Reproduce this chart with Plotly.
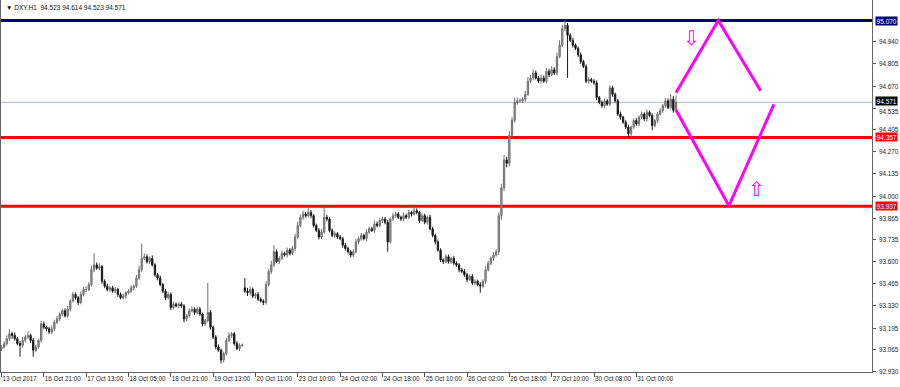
import plotly.graph_objects as go

# ---------------- data ----------------
close_ = [
    93.08, 93.10, 93.13, 93.16, 93.15, 93.13, 93.10, 93.09, 93.12, 93.14, 93.15, 93.12, 93.06, 93.08, 93.12, 93.22,
    93.20, 93.19, 93.17, 93.19, 93.23, 93.25, 93.28, 93.30, 93.27, 93.31, 93.36, 93.40, 93.38, 93.35, 93.40, 93.43,
    93.43, 93.46, 93.55, 93.58, 93.56, 93.57, 93.48, 93.45, 93.43, 93.44, 93.42, 93.43, 93.40, 93.38, 93.39, 93.41,
    93.42, 93.44, 93.45, 93.50, 93.55, 93.62, 93.63, 93.60, 93.62, 93.58, 93.52, 93.50, 93.46, 93.42, 93.38, 93.40,
    93.32, 93.34, 93.33, 93.34, 93.33, 93.25, 93.27, 93.30, 93.31, 93.29, 93.31, 93.28, 93.22, 93.24, 93.29, 93.20,
    93.14, 93.08, 93.06, 93.00, 93.04, 93.12, 93.15, 93.16, 93.10, 93.07, 93.09, 93.09, 93.42, 93.41, 93.43, 93.39,
    93.40, 93.37, 93.36, 93.35, 93.46, 93.54, 93.58, 93.66, 93.60, 93.62, 93.65, 93.64, 93.67, 93.65, 93.68, 93.75,
    93.82, 93.87, 93.89, 93.88, 93.90, 93.88, 93.82, 93.79, 93.75, 93.78, 93.87, 93.86, 93.79, 93.76, 93.77, 93.75,
    93.74, 93.70, 93.68, 93.66, 93.64, 93.66, 93.72, 93.74, 93.76, 93.74, 93.78, 93.80, 93.79, 93.83, 93.82, 93.85,
    93.86, 93.84, 93.72, 93.86, 93.88, 93.89, 93.87, 93.86, 93.88, 93.87, 93.90, 93.89, 93.91, 93.90, 93.85, 93.88,
    93.84, 93.87, 93.80, 93.76, 93.72, 93.67, 93.61, 93.60, 93.63, 93.60, 93.62, 93.59, 93.58, 93.55, 93.54, 93.52,
    93.49, 93.51, 93.47, 93.48, 93.46, 93.45, 93.48, 93.55, 93.59, 93.62, 93.64, 93.66, 93.88, 94.05, 94.22, 94.20,
    94.37, 94.46, 94.57, 94.58, 94.58, 94.59, 94.62, 94.70, 94.72, 94.75, 94.72, 94.70, 94.72, 94.70, 94.76, 94.74,
    94.77, 94.75, 94.85, 94.92, 95.02, 95.04, 94.98, 94.95, 94.92, 94.90, 94.86, 94.82, 94.79, 94.70, 94.71, 94.70,
    94.69, 94.60, 94.57, 94.55, 94.58, 94.56, 94.66, 94.62, 94.58, 94.50, 94.48, 94.45, 94.42, 94.38, 94.42, 94.46,
    94.44, 94.48, 94.50, 94.47, 94.51, 94.49, 94.43, 94.46, 94.50, 94.52, 94.55, 94.58, 94.54, 94.59, 94.523, 94.571,
]
# wick lengths in points (0.001)
upper_wick_pts = [
    10, 15, 20, 25, 12, 18, 10, 15, 20, 12, 25, 10, 15, 12, 10, 20,
    15, 10, 12, 20, 15, 18, 10, 12, 15, 20, 10, 15, 12, 10, 18, 15,
    20, 15, 25, 70, 15, 20, 10, 12, 15, 10, 12, 15, 10, 12, 15, 10,
    12, 15, 10, 20, 25, 90, 20, 15, 12, 18, 10, 12, 15, 10, 12, 15,
    12, 15, 10, 12, 15, 10, 12, 15, 18, 10, 12, 15, 10, 12, 180, 15,
    10, 12, 15, 10, 12, 15, 20, 12, 10, 15, 12, 10, 60, 20, 15, 12,
    10, 15, 12, 10, 20, 15, 25, 40, 15, 12, 18, 10, 15, 12, 15, 20,
    25, 15, 20, 12, 25, 15, 10, 12, 15, 20, 60, 15, 10, 12, 15, 10,
    12, 10, 15, 12, 10, 15, 20, 12, 15, 10, 18, 15, 12, 20, 15, 18,
    15, 12, 15, 10, 18, 15, 12, 10, 20, 12, 15, 10, 25, 15, 10, 15,
    12, 10, 15, 12, 10, 15, 12, 10, 15, 12, 10, 15, 12, 10, 12, 15,
    12, 10, 15, 12, 10, 15, 12, 20, 15, 12, 18, 15, 20, 25, 30, 20,
    25, 20, 30, 20, 15, 12, 20, 25, 18, 20, 15, 12, 18, 15, 20, 15,
    20, 15, 25, 30, 25, 30, 15, 12, 15, 10, 12, 15, 10, 12, 15, 10,
    12, 15, 10, 12, 15, 10, 15, 12, 10, 12, 15, 10, 12, 15, 10, 12,
    15, 12, 15, 10, 18, 12, 15, 10, 12, 15, 12, 18, 15, 30, 20, 43,
]
lower_wick_pts = [
    15, 10, 12, 15, 20, 12, 10, 70, 15, 12, 10, 15, 40, 12, 10, 15,
    12, 15, 10, 12, 15, 10, 12, 15, 10, 12, 15, 10, 12, 15, 10, 12,
    15, 10, 12, 15, 10, 12, 15, 10, 12, 15, 10, 12, 15, 10, 12, 15,
    10, 12, 15, 10, 12, 15, 10, 12, 15, 10, 12, 15, 10, 12, 15, 10,
    15, 12, 10, 15, 12, 20, 15, 12, 10, 15, 12, 10, 15, 12, 10, 15,
    12, 15, 10, 20, 15, 12, 10, 15, 12, 10, 15, 12, 10, 20, 15, 12,
    15, 12, 10, 15, 12, 10, 15, 12, 10, 15, 12, 10, 15, 12, 10, 15,
    12, 10, 15, 12, 10, 15, 12, 10, 15, 12, 10, 15, 12, 10, 15, 12,
    10, 15, 12, 10, 15, 12, 10, 15, 12, 10, 15, 12, 10, 15, 12, 10,
    15, 12, 60, 10, 12, 15, 10, 12, 15, 10, 12, 15, 10, 12, 15, 10,
    12, 15, 10, 12, 15, 10, 12, 15, 10, 12, 15, 10, 12, 15, 10, 12,
    15, 10, 12, 15, 10, 40, 12, 15, 10, 12, 15, 10, 20, 25, 20, 25,
    20, 15, 12, 15, 10, 12, 15, 10, 12, 15, 10, 12, 15, 10, 12, 15,
    10, 12, 15, 10, 12, 15, 260, 12, 15, 10, 12, 15, 10, 12, 15, 10,
    12, 15, 10, 12, 15, 10, 12, 15, 10, 12, 15, 10, 12, 20, 15, 10,
    12, 15, 10, 12, 15, 10, 30, 12, 15, 10, 12, 15, 10, 12, 15, 0,
]
first_open = 93.07
gap_opens = {92: 93.44}

x_tick_idx = [0, 16, 32, 48, 64, 80, 96, 112, 128, 144, 160, 176, 192, 208, 224, 240]
x_tick_text = ["13 Oct 2017", "16 Oct 21:00", "17 Oct 13:00", "18 Oct 05:00", "18 Oct 21:00",
               "19 Oct 13:00", "20 Oct 11:00", "23 Oct 10:00", "24 Oct 02:00", "24 Oct 18:00",
               "25 Oct 10:00", "26 Oct 02:00", "26 Oct 18:00", "27 Oct 10:00", "30 Oct 08:00",
               "31 Oct 00:00"]
y_tick_vals = [94.940, 94.805, 94.670, 94.535, 94.405, 94.270, 94.135, 94.000,
               93.865, 93.735, 93.600, 93.465, 93.330, 93.195, 93.065, 92.930]

level_prices = [95.070, 94.357, 93.937]
level_colors = ["#000080", "#ff0000", "#ff0000"]
bid_price = 94.571

zig_upper_x = [255, 271, 287]
zig_upper_y = [94.630, 95.070, 94.642]
zig_lower_x = [255, 275, 292]
zig_lower_y = [94.524, 93.940, 94.559]

arrow_down_pos = (261, 94.965)
arrow_up_pos = (285.6, 94.045)

title_text = "DXY.H1  94.523 94.614 94.523 94.571"

# ---------------- build OHLC ----------------
x_idx = list(range(len(close_)))
opens = []
for i, c in enumerate(close_):
    if i == 0:
        opens.append(first_open)
    elif i in gap_opens:
        opens.append(gap_opens[i])
    else:
        opens.append(close_[i - 1])
highs = [max(o, c) + u / 1000 for o, c, u in zip(opens, close_, upper_wick_pts)]
lows = [min(o, c) - l / 1000 for o, c, l in zip(opens, close_, lower_wick_pts)]

FONT = "Liberation Sans, Arial, sans-serif"
font_small = dict(family=FONT, size=6.3, color="#222222")

fig = go.Figure()

# horizontal levels (drawn under candles)
for p, col in zip(level_prices, level_colors):
    fig.add_shape(type="line", xref="paper", x0=0, x1=1, yref="y", y0=p, y1=p,
                  line=dict(color=col, width=3), layer="below")
fig.add_shape(type="line", xref="paper", x0=0, x1=1, yref="y", y0=bid_price, y1=bid_price,
              line=dict(color="#a9b9c9", width=1), layer="below")

fig.add_trace(go.Candlestick(
    x=x_idx, open=opens, high=highs, low=lows, close=close_,
    increasing=dict(line=dict(color="#6e6e6e", width=1), fillcolor="#a9a9a9"),
    decreasing=dict(line=dict(color="#1a1a1a", width=1), fillcolor="#1a1a1a"),
    whiskerwidth=0, showlegend=False, hoverinfo="skip",
))

fig.add_trace(go.Scatter(x=zig_upper_x, y=zig_upper_y, mode="lines",
                         line=dict(color="#ff00ff", width=3), showlegend=False, hoverinfo="skip"))
fig.add_trace(go.Scatter(x=zig_lower_x, y=zig_lower_y, mode="lines",
                         line=dict(color="#ff00ff", width=3), showlegend=False, hoverinfo="skip"))

# arrows
fig.add_annotation(x=arrow_down_pos[0], y=arrow_down_pos[1], text="\u21e9", showarrow=False,
                   font=dict(family="DejaVu Sans", size=20, color="#ff00ff"))
fig.add_annotation(x=arrow_up_pos[0], y=arrow_up_pos[1], text="\u21e7", showarrow=False,
                   font=dict(family="DejaVu Sans", size=20, color="#ff00ff"))

# y tick labels as annotations so the one next to the bid box can be nudged
for v in y_tick_vals:
    shift = -3 if abs(v - bid_price) < 0.06 else 0
    fig.add_annotation(xref="paper", x=1, xanchor="left", xshift=5, y=v, yanchor="middle",
                       yshift=shift, text=f"{v:.3f}", showarrow=False, font=font_small)

# price boxes on the right axis
for p, col in list(zip(level_prices, level_colors)) + [(bid_price, "#000000")]:
    fig.add_annotation(xref="paper", x=1, xanchor="left", xshift=3, y=p, yanchor="middle",
                       yshift=1 if p == bid_price else 0,
                       text=f"{p:.3f}", showarrow=False, bgcolor=col, borderpad=0.6,
                       font=dict(family=FONT, size=6.5, color="white"))

# title
fig.add_annotation(xref="paper", yref="paper", x=0, y=1, xanchor="left", yanchor="top",
                   xshift=3, yshift=-2, text="\u25bc " + title_text, showarrow=False,
                   font=dict(family=FONT, size=6.5, color="#111111"))

fig.update_layout(
    width=900, height=387,
    margin=dict(l=1, r=28, t=0, b=15, autoexpand=False),
    paper_bgcolor="white", plot_bgcolor="white",
    showlegend=False,
    xaxis=dict(
        range=[-0.19, 329.1], rangeslider=dict(visible=False),
        tickmode="array", tickvals=x_tick_idx, ticktext=x_tick_text,
        tickangle=0, automargin=False,
        ticks="outside", ticklen=4, tickcolor="#555555",
        ticklabelposition="outside right",
        showgrid=False, zeroline=False,
        showline=True, linecolor="#666666", linewidth=1, mirror=True,
        tickfont=font_small,
    ),
    yaxis=dict(
        range=[92.927, 95.195], side="right", automargin=False,
        tickmode="array", tickvals=y_tick_vals, showticklabels=False,
        ticks="outside", ticklen=3, tickcolor="#555555",
        showgrid=False, zeroline=False,
        showline=True, linecolor="#666666", linewidth=1, mirror=True,
    ),
)

fig.write_html("out.html")
